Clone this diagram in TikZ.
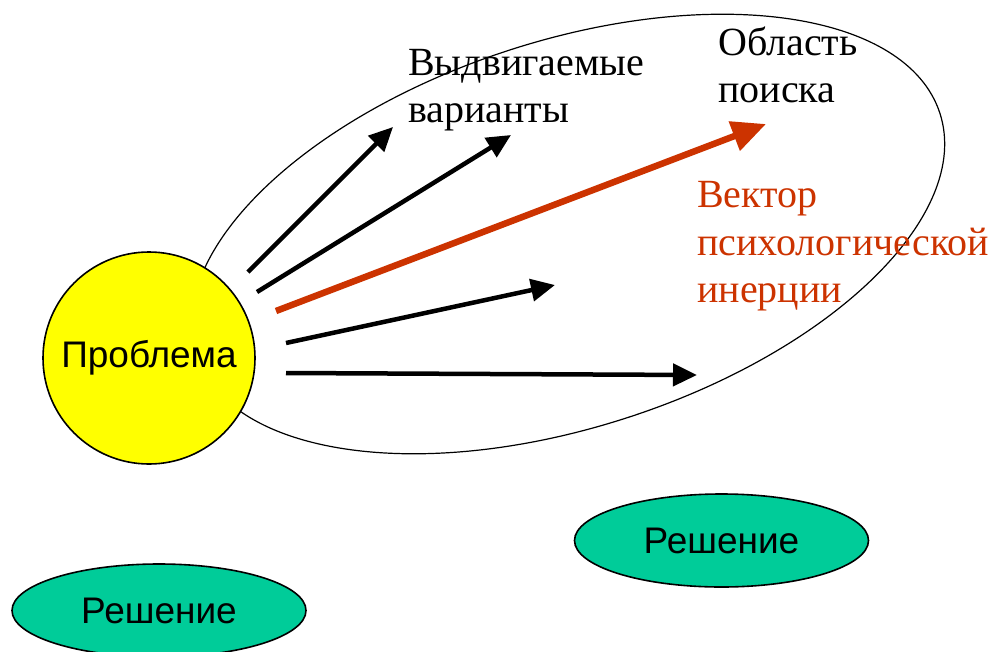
\documentclass[tikz,border=0pt]{standalone}
\usepackage{fontspec}
\setmainfont{Liberation Serif}
\newfontfamily\sansf{Liberation Sans}
\usetikzlibrary{arrows.meta,shapes.geometric}
\definecolor{probyellow}{HTML}{FFFF00}
\definecolor{solgreen}{HTML}{00CC99}
\definecolor{vecred}{HTML}{CC3300}
\tikzset{
  blackarrow/.style={line width=4.5pt, -{Triangle[length=24pt,width=22pt]}},
  redarrow/.style={vecred, line width=6.5pt, -{Triangle[length=34pt,width=30pt]}},
  serifline/.style={font=\fontsize{40}{47}\selectfont, inner sep=0pt, anchor=base west},
  solution/.style={ellipse, draw, line width=1.6pt, fill=solgreen, minimum width=294pt, minimum height=93pt, inner sep=0pt, font=\sansf\fontsize{37}{40}\selectfont},
  problem/.style={circle, draw, line width=1.6pt, fill=probyellow, minimum size=212pt, inner sep=0pt, font=\sansf\fontsize{37}{40}\selectfont},
  region/.style={line width=1.2pt}
}
\begin{document}
\begin{tikzpicture}[x=1pt,y=-1pt]
\useasboundingbox (0,0) rectangle (999,651);
% search region
\coordinate (E) at (568,234);
\draw[region, rotate around={18:(E)}] (E) ellipse [x radius=391pt, y radius=193pt];
% problem
\node[problem] (prob) at (149,358) {Проблема};
% arrows
\coordinate (a1s) at (248,272); \coordinate (a1e) at (393,127);
\coordinate (a2s) at (257,292); \coordinate (a2e) at (511,135);
\coordinate (rs) at (276,311);  \coordinate (re) at (766,124);
\coordinate (a4s) at (286,343); \coordinate (a4e) at (555,285);
\coordinate (a5s) at (286,373); \coordinate (a5e) at (697,375);
\draw[blackarrow] (a1s) -- (a1e);
\draw[blackarrow] (a2s) -- (a2e);
\draw[redarrow] (rs) -- (re);
\draw[blackarrow] (a4s) -- (a4e);
\draw[blackarrow] (a5s) -- (a5e);
% labels
\node[serifline] (vyd1) at (408,75) {Выдвигаемые};
\node[serifline] (vyd2) at (408,122) {варианты};
\node[serifline] (obl1) at (718,55) {Область};
\node[serifline] (obl2) at (718,102) {поиска};
\node[serifline, text=vecred] (vek1) at (697,207) {Вектор};
\node[serifline, text=vecred] (vek2) at (697,255) {психологической};
\node[serifline, text=vecred] (vek3) at (697,302) {инерции};
% solutions
\node[solution] (sol1) at (159,610.5) {Решение};
\node[solution] (sol2) at (721.5,540.5) {Решение};
\end{tikzpicture}
\end{document}
